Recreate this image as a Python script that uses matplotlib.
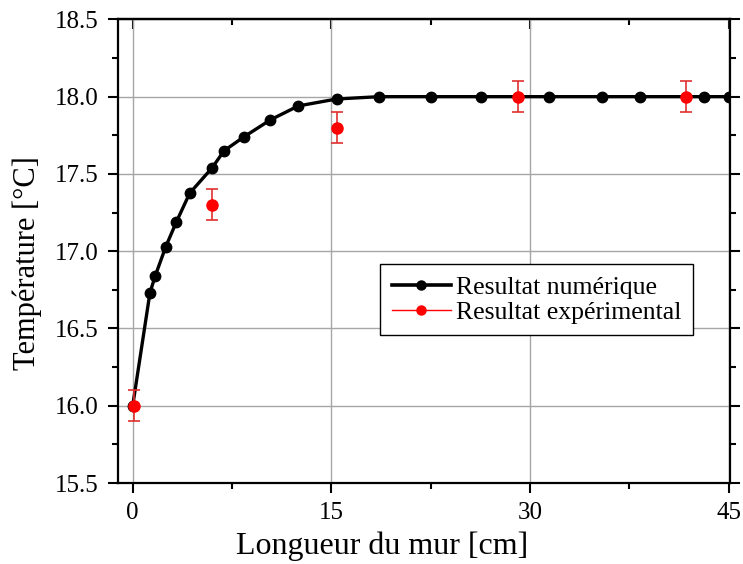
import matplotlib
matplotlib.use("Agg")
import matplotlib.pyplot as plt
from matplotlib.lines import Line2D
from matplotlib.ticker import MultipleLocator

# numerical result
x_num = [0.0, 1.3, 1.7, 2.5, 3.3, 4.3, 6.0, 6.9, 8.4, 10.4, 12.5, 15.4,
         18.6, 22.5, 26.3, 31.4, 35.4, 38.3, 43.1, 45.0]
t_num = [16.0, 16.73, 16.84, 17.03, 17.19, 17.375, 17.54, 17.65, 17.74, 17.85,
         17.94, 17.985, 18.0, 18.0, 18.0, 18.0, 18.0, 18.0, 18.0, 18.0]

# experimental result
x_exp = [0.1, 6.0, 15.4, 29.1, 41.75]
t_exp = [16.0, 17.3, 17.8, 18.0, 18.0]
t_err = [0.1, 0.1, 0.1, 0.1, 0.1]

plt.rcParams["font.family"] = ["Liberation Serif", "DejaVu Serif"]

fig = plt.figure(figsize=(7.43, 5.64), dpi=100)
ax = fig.add_axes([0.159, 0.1436, 0.8235, 0.822])

ax.grid(True, which="major", color="#a6a6a6", linewidth=1.0, zorder=0)
ax.plot(x_num, t_num, "-o", color="black", linewidth=2.4, markersize=7.5, zorder=3)
ax.errorbar(x_exp, t_exp, yerr=t_err, fmt="o", color="#ff0000", ecolor="#e03030",
            markersize=8, elinewidth=1.2, capsize=4, capthick=1.2, zorder=4)

ax.set_xlim(-1.1, 45.1)
ax.set_ylim(15.5, 18.5)
ax.xaxis.set_major_locator(MultipleLocator(15))
ax.xaxis.set_minor_locator(MultipleLocator(7.5))
ax.yaxis.set_major_locator(MultipleLocator(0.5))
ax.yaxis.set_minor_locator(MultipleLocator(0.25))
ax.yaxis.set_major_formatter(matplotlib.ticker.FormatStrFormatter("%.1f"))

for s in ax.spines.values():
    s.set_linewidth(1.6)

ax.tick_params(which="both", direction="out", width=1.5, labelsize=18,
               bottom=True, left=True, right=True, top=False)
ax.tick_params(which="major", length=7, pad=7)
ax.tick_params(which="minor", length=4)

# top axis ticks point inward
sec = ax.secondary_xaxis("top")
sec.xaxis.set_major_locator(MultipleLocator(15))
sec.xaxis.set_minor_locator(MultipleLocator(7.5))
sec.tick_params(which="both", direction="in", width=1.5, labeltop=False)
sec.tick_params(which="major", length=7)
sec.tick_params(which="minor", length=4)
sec.spines["top"].set_linewidth(1.6)

ax.set_xlabel("Longueur du mur [cm]", fontsize=23)
ax.set_ylabel("Température [°C]", fontsize=22)
ax.xaxis.set_label_coords(0.431, -0.105)
ax.yaxis.set_label_coords(-0.125, 0.474)

handles = [
    Line2D([], [], color="black", linewidth=2.6, marker="o", markersize=6.5),
    Line2D([], [], color="#ff0000", linewidth=1.0, marker="o", markersize=6.5),
]
ax.legend(handles, ["Resultat numérique", "Resultat expérimental"],
          loc="upper left", bbox_to_anchor=(0.428, 0.472), fontsize=18.5,
          frameon=True, fancybox=False, edgecolor="black", framealpha=1,
          handlelength=2.3, handletextpad=0.2, borderpad=0.45, labelspacing=0.08,
          borderaxespad=0)
ax.get_legend().get_frame().set_linewidth(1.0)

fig.savefig("out.png", dpi=100)
